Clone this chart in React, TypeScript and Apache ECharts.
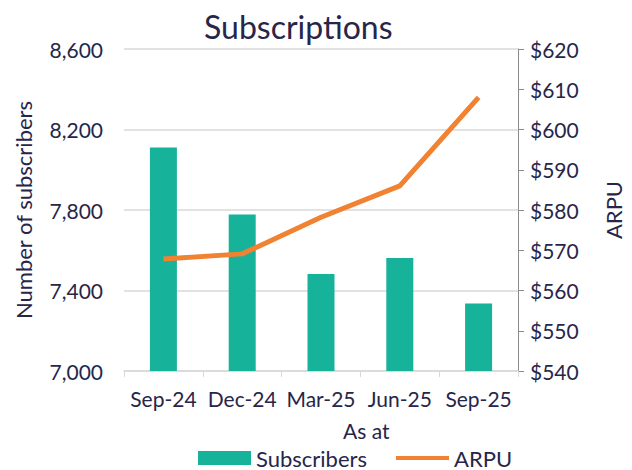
import React, { useEffect, useRef } from "react";
import * as echarts from "echarts";

const categories = ["Sep-24", "Dec-24", "Mar-25", "Jun-25", "Sep-25"];
const subscribers = [8110, 7778, 7482, 7562, 7336];
const arpu = [567.8, 569.1, 578.2, 586.0, 608.0];
const leftTicks = { min: 7000, max: 8600, interval: 400 };
const rightTicks = { min: 540, max: 620, interval: 10 };

const TEXT = "#27264a";
const FONT = "Lato";

export default function App() {
  const ref = useRef<HTMLDivElement>(null);
  useEffect(() => {
    const chart = echarts.init(ref.current!, null, { renderer: "svg" });
    chart.setOption({
      animation: false,
      textStyle: { fontFamily: FONT, color: TEXT },
      title: {
        text: "Subscriptions",
        left: 199,
        top: 5,
        textStyle: { fontFamily: FONT, fontSize: 32, fontWeight: "normal", color: TEXT },
      },
      grid: { left: 124, right: 109, top: 49, bottom: 99, containLabel: false },
      legend: {
        top: 447,
        left: 198,
        padding: 0,
        itemWidth: 53,
        itemHeight: 14,
        itemGap: 29,
        textStyle: { fontFamily: FONT, fontSize: 22, color: TEXT, lineHeight: 22 },
        data: [
          { name: "Subscribers", icon: "rect" },
          { name: "ARPU", icon: "path://M0,0 H53 V4 H0 Z" },
        ],
      },
      xAxis: {
        type: "category",
        data: categories,
        axisLine: { show: true, lineStyle: { color: "#d9d9d9", width: 1.5 } },
        axisTick: { show: true, length: 6, lineStyle: { color: "#d9d9d9" } },
        axisLabel: { fontFamily: FONT, fontSize: 21, color: TEXT, margin: 17, interval: 0 },
      },
      yAxis: [
        {
          type: "value",
          min: leftTicks.min,
          max: leftTicks.max,
          interval: leftTicks.interval,
          name: "Number of subscribers",
          nameLocation: "middle",
          nameGap: 90,
          nameTextStyle: { fontFamily: FONT, fontSize: 22, color: TEXT },
          axisLine: { show: false },
          axisTick: { show: false },
          splitLine: { lineStyle: { color: "#d9d9d9", width: 1.5 } },
          axisLabel: {
            fontFamily: FONT,
            fontSize: 21,
            color: TEXT,
            margin: 21,
            formatter: (v: number) => v.toLocaleString("en-US"),
          },
        },
        {
          type: "value",
          min: rightTicks.min,
          max: rightTicks.max,
          interval: rightTicks.interval,
          position: "right",
          name: "ARPU",
          nameLocation: "middle",
          nameGap: 84,
          nameRotate: 90,
          nameTextStyle: { fontFamily: FONT, fontSize: 22, color: TEXT },
          axisLine: { show: true, lineStyle: { color: "#8c8c8c", width: 1 } },
          axisTick: { show: true, length: 6, lineStyle: { color: "#8c8c8c" } },
          splitLine: { show: false },
          axisLabel: {
            fontFamily: FONT,
            fontSize: 21,
            color: TEXT,
            margin: 12,
            formatter: (v: number) => "$" + v,
          },
        },
      ],
      graphic: [
        {
          type: "text",
          left: 343,
          top: 420,
          style: { text: "As at", fontFamily: FONT, fontSize: 21, fill: TEXT },
        },
      ],
      series: [
        {
          name: "Subscribers",
          type: "bar",
          data: subscribers,
          barWidth: 27,
          itemStyle: { color: "#16b29a" },
          yAxisIndex: 0,
        },
        {
          name: "ARPU",
          type: "line",
          data: arpu,
          yAxisIndex: 1,
          symbol: "none",
          lineStyle: { color: "#f08232", width: 5 },
          itemStyle: { color: "#f08232" },
        },
      ],
    });
    return () => chart.dispose();
  }, []);
  return <div ref={ref} style={{ width: 632, height: 470, position: "absolute", left: 0, top: 0 }} />;
}
